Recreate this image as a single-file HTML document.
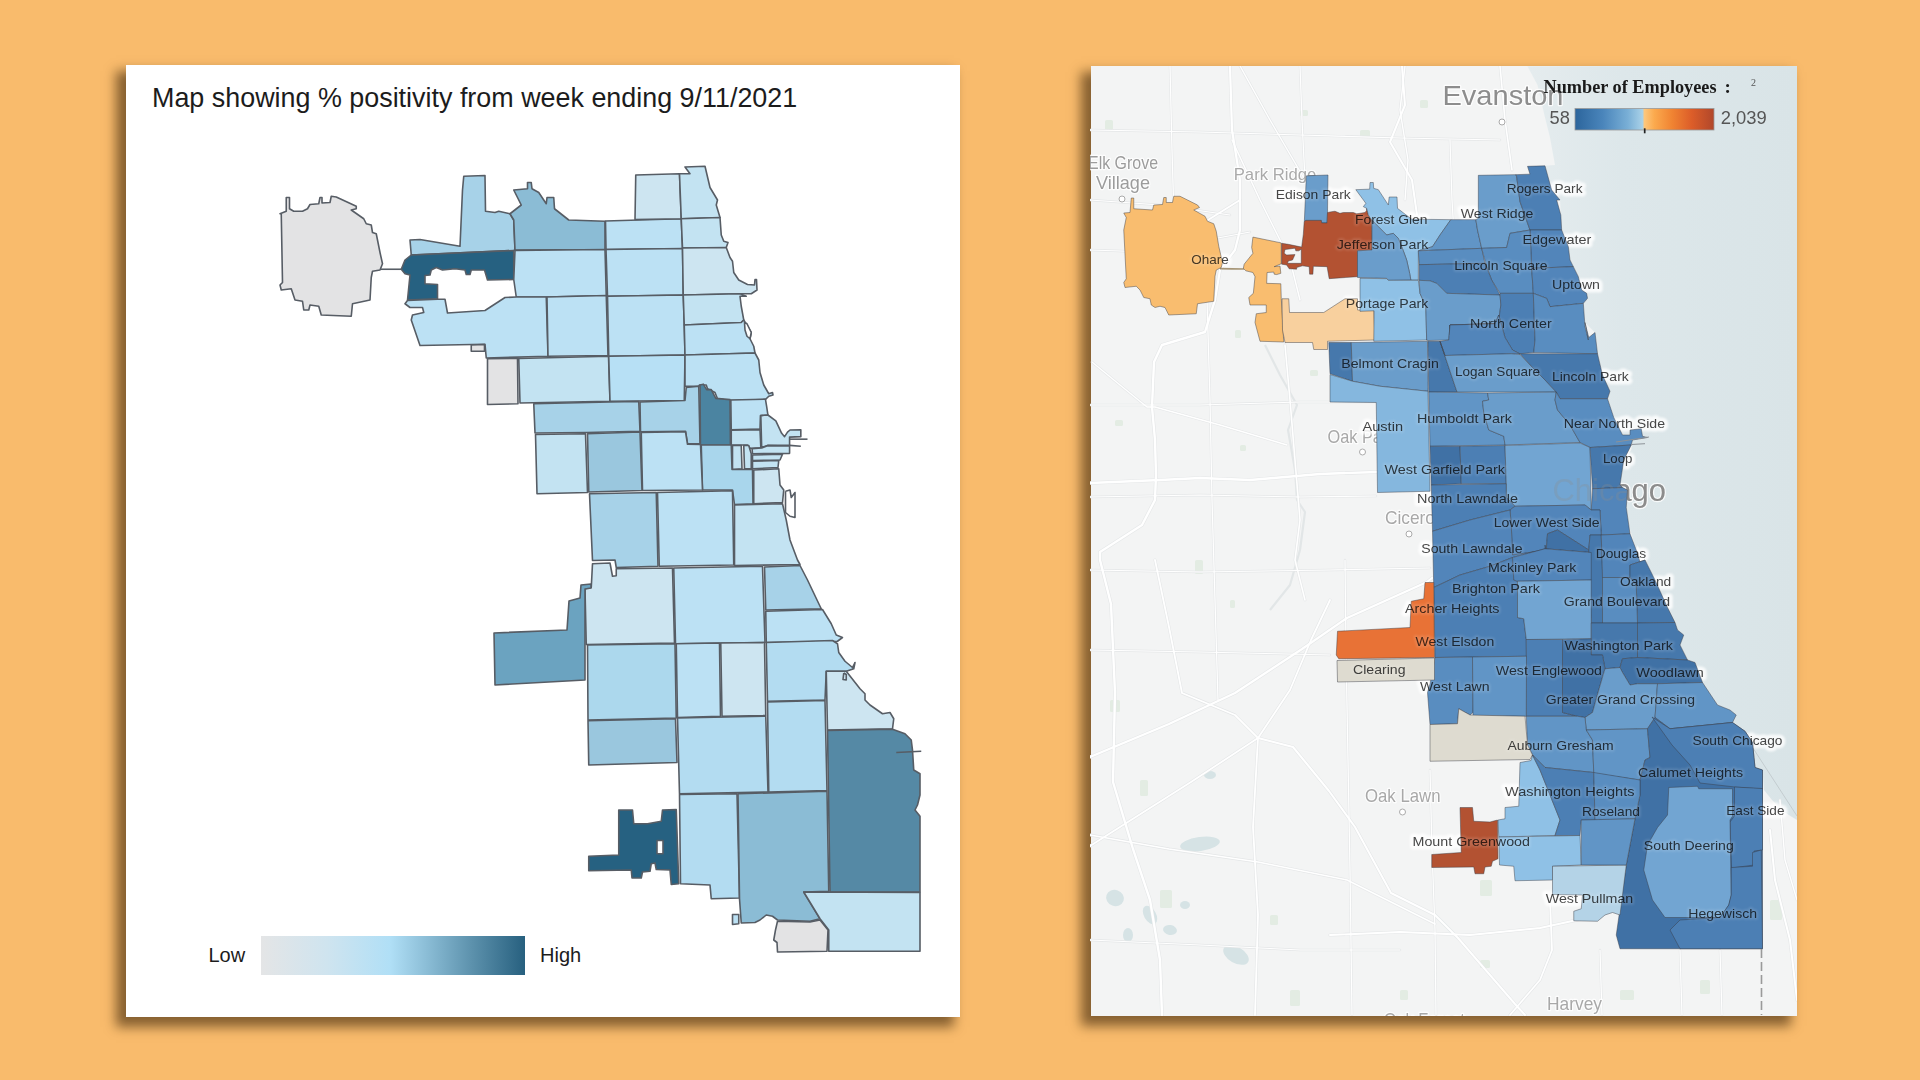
<!DOCTYPE html>
<html lang="en">
<head>
<meta charset="utf-8">
<title>Chicago maps</title>
<style>
html,body{margin:0;padding:0;}
body{width:1920px;height:1080px;overflow:hidden;background:#f9bb6c;font-family:"Liberation Sans",sans-serif;position:relative;}
.card{position:absolute;background:#fff;}
#c1{left:125.5px;top:64.5px;width:834.5px;height:952px;box-shadow:-8px 8px 11px 2px rgba(75,48,18,.66);}
#c2{left:1090.5px;top:66px;width:706.5px;height:949.5px;background:#f3f4f4;box-shadow:-8px 8px 11px 2px rgba(75,48,18,.66);overflow:hidden;}
#title{position:absolute;left:152px;top:83px;font-size:26.9px;color:#1c1c1c;white-space:nowrap;letter-spacing:0;}
.lg{position:absolute;font-size:20px;color:#1c1c1c;}
#grad{position:absolute;left:261px;top:936px;width:264px;height:39px;background:linear-gradient(90deg,#e4e5e6 0%,#cfe4ef 25%,#b0dff6 49%,#8dbfd8 62%,#5c91ac 80%,#27607f 100%);}
svg{position:absolute;left:0;top:0;}
#lm polygon,#lm path,#lm polyline{stroke:#575d65;stroke-width:1.6;stroke-linejoin:round;}
#rm text{font-family:"Liberation Sans",sans-serif;}
#rm text.sb{font-family:"Liberation Serif",serif;font-weight:bold;font-size:19px;}
#rm text.ss{font-family:"Liberation Serif",serif;font-size:10px;}
#rm .cp polygon{stroke:rgba(55,58,66,.5);stroke-width:.9;stroke-linejoin:round;}
#rm .cl{font-size:13.5px;fill:#fff;stroke:#fff;stroke-width:3.5px;stroke-linejoin:round;opacity:.12;filter:url(#hb);}
#rm .cl0{font-size:13.5px;fill:#fff;stroke:#fff;stroke-width:7px;stroke-linejoin:round;opacity:.8;filter:url(#hb);}
#rm .cl2{font-size:13.5px;fill:#474747;mix-blend-mode:multiply;}
#rm .bl{stroke:rgba(255,255,255,.8);stroke-width:2.5px;paint-order:stroke fill;stroke-linejoin:round;}
</style>
</head>
<body>
<div class="card" id="c1"></div>
<div class="card" id="c2"></div>
<div id="title">Map showing % positivity from week ending 9/11/2021</div>
<svg id="lm" width="1920" height="1080" viewBox="0 0 1920 1080">
<polygon points="280,213.75 286.25,211.25 286.25,197.5 289.5,197.5 289.5,208.75 293.75,211.25 302.5,211.25 307.5,208.75 310,204.5 318.75,203.75 320,197.5 322,197.5 322,203 330,202.5 331.25,196.25 336.25,197 356.25,206.25 356.25,208.75 351.25,210 363.75,218.75 366.25,223.75 371.25,225 372.5,232.5 376.25,233.75 380,252.5 382.5,263.75 380,270 372.5,271.25 371.25,277.5 370,300 352.5,303.75 351.25,316.25 321.25,315 318.75,306.25 310,305 308.75,310 303.75,310 302.5,301.25 295,300 291.25,288.75 281.25,290 280,285 282.5,282.5 281.25,213.75" fill="#e3e3e4"/>
<polygon points="411.25,255 410,240 420,239.5 460,246.25 462.5,190 463.75,176.25 485,175.5 485.5,211.25 495,212.5 498.75,211.25 510,213.75 513.75,220 515,250 513.75,250.5" fill="#a7d2e8"/>
<polygon points="513.75,190 527.5,188.75 527.5,182.5 531.25,182.5 532,188.75 538.75,192.5 546.25,203.75 547,197.5 553.75,197.5 554.5,208.75 568.75,220 605,221.25 605,249.5 515,250 513.75,220 510,213.75 521.25,205" fill="#8bbcd5"/>
<polygon points="401.25,269.25 405,260 411.25,255 513.75,250.5 513.75,279.5 487.5,280 484.5,270 471.25,270 470,274.5 466.25,274.5 465,270 455,268.75 442.5,270 436.25,267.5 431.25,270 430,275 425,275.5 425,283.75 437.5,284.5 437.5,298.75 407.5,300 410,275 405,273.75" fill="#266181"/>
<polygon points="515,250.5 605,249.5 606.25,295.5 546.25,297 516.25,297 513.75,279.5" fill="#bce1f4"/>
<polygon points="407.5,300.5 437.5,299.25 445,299.25 447.5,313 485,310.5 505,297.5 516.25,297 546.25,297 548,356.25 486.25,358 485,344.25 420,345.5 411.25,320 412.5,315 423.75,312.5 422.5,307.5 410,307.5 405,303.75" fill="#bce1f4"/>
<polygon points="471.25,345 484.5,344.5 484.5,351.25 471.25,351.25" fill="#e3e3e4"/>
<polygon points="547,297 606.25,295.5 608,355.5 548,356.25" fill="#bce1f4"/>
<polygon points="487.5,358.75 517.5,358.25 518,403.75 487.5,404.5" fill="#e3e3e4"/>
<polygon points="518.75,358.5 608.5,356.25 610,401.25 520,403" fill="#c3e3f2"/>
<polygon points="605.5,221 681.25,218.75 682.5,248.5 606,249.5" fill="#bce1f4"/>
<polygon points="606,249.5 682.5,248.5 683.25,295 607.5,296.25" fill="#bce1f4"/>
<polygon points="607.5,296.25 683.25,295 684.25,325 685,355 608.75,356.25" fill="#bce1f4"/>
<polygon points="608.75,356.25 685,355 684.25,400.5 610,401.25" fill="#b7e0f5"/>
<polygon points="635.75,175 679.5,173.75 681.25,218.75 635,219.5" fill="#cde5f1"/>
<polygon points="679.5,173.75 690,173.75 685,167 705,166.25 710,187.5 717.5,200 716.25,205 720,217.5 681.25,218.75" fill="#c3e3f2"/>
<polygon points="681.25,218.75 720,217.5 721.25,235 723.75,241.25 728,242.5 726.25,247.5 682.5,248" fill="#c3e3f2"/>
<polygon points="682.5,248 726.25,247.5 730,257.5 732.5,261.25 733.75,272.5 738.75,280 747.5,284.5 754.5,285 755,279.5 756.5,279.5 757,290 751.25,293.75 740,293.75 683.25,295" fill="#cde5f1"/>
<polygon points="683.25,295 740,293.75 746.25,296.25 740,296.25 741.25,306.25 743.75,320 741.25,322.5 684.25,325" fill="#c3e3f2"/>
<polygon points="684.25,325 741.25,322.5 743.75,320 751.25,332.5 750,338.75 753.75,346.25 755,353 685,355" fill="#bce1f4"/>
<polygon points="685,355 755,353 758.75,360 760,372.5 763.75,385 768.75,393.75 772.5,392.5 773,395 768.75,396.25 765.5,399.5 730,400.5 717.5,398.75 715,392.5 707.5,388.75 706.25,385 699.5,385 698.75,386.25 685,386.25" fill="#bce1f4"/>
<polygon points="744.5,322.5 747,323.75 751.25,332.5 750,338.75 747,336.25 745,330" fill="#ffffff"/>
<polygon points="533.75,403.75 610,402 638.75,401.5 640,431.25 586.25,432.5 535,433" fill="#a7d2e8"/>
<polygon points="640,402 685,400.5 686.25,387.5 698.75,386.25 700,443.75 687.5,443.75 685.5,431.25 640.5,431.75" fill="#a7d2e8"/>
<polygon points="700,385 703.33,384.17 706.67,389.58 711.25,389.58 715.83,398.33 730,399.58 730.42,445 700.42,445.42" fill="#4b84a1"/>
<polygon points="730.83,400 765.42,399.17 766.67,406.67 767.92,415 760.42,415.67 760,429.17 731.25,429.83" fill="#bce1f4"/>
<polygon points="731.25,430.17 760,429.58 760.83,447.92 750,448.33 747.5,445 731.25,445" fill="#c3e3f2"/>
<polygon points="760.83,415.67 767.92,415 775.83,420.83 781.67,433.33 784.58,436.67 787.5,432.08 790,430 800.83,429.83 800.83,436.67 789.58,437.08 789.58,445.42 767.5,445.42 761.67,447.5" fill="#c3e3f2"/>
<polygon points="752.08,448.75 761.67,447.92 767.5,445.67 789.58,446 789.58,453.33 752.5,453.75" fill="#c3e3f2"/>
<polygon points="732.5,445.5 741.25,445.5 742,468.75 732.5,469.5" fill="#c3e3f2"/>
<polygon points="743.75,445.5 748.75,445.5 751.25,453.75 751.25,468.75 744.5,468.75" fill="#c3e3f2"/>
<polygon points="752.5,455 782.5,454.25 780,460 752.5,460.5" fill="#c3e3f2"/>
<polygon points="752.5,461.25 778.75,460.5 778,467.5 752.5,468.75" fill="#c3e3f2"/>
<polygon points="753.75,470 778.75,468.75 780,485 783.75,490 782.5,502.5 753.75,503.75" fill="#cde5f1"/>
<polygon points="701.25,445 731.25,445 732,469.5 752.5,469.5 753,503.75 734.5,504.5 732.5,490 702.5,490" fill="#a9d6ec"/>
<polygon points="641.25,432.5 685.5,431.75 687.5,444.25 700.5,444.5 702.5,490 642.5,490.5" fill="#bce1f4"/>
<polygon points="587.5,433.75 640,432 642,490.5 588.75,492" fill="#9ac7de"/>
<polygon points="535.5,434.5 585.5,433.75 587.5,492.5 537,493.75" fill="#c3e3f2"/>
<polygon points="589.5,493.75 656.25,492.5 658,566.25 616.25,567.5 615,560 592.5,560.5" fill="#a7d2e8"/>
<polygon points="657.5,492.5 732.5,490.75 733.75,565 659.25,566.25" fill="#bce1f4"/>
<polygon points="734.5,505 782.5,503.75 786.25,520 790,540 797.5,560 800,564.5 734.5,565.5" fill="#c3e3f2"/>
<polygon points="592.5,563.75 610,563 612.5,576.25 616.25,575.75 616.25,568.75 672.5,568 674.5,643 586.25,644.5 585,588.75 591.25,587.5" fill="#cde5f1"/>
<polygon points="673.75,568 762.5,566.25 765,642.5 675.5,643.75" fill="#bce1f4"/>
<polygon points="764.5,567 800,565.5 807.5,580 820,606.25 821.25,608.75 765.75,610" fill="#a7d2e8"/>
<polygon points="765.75,611.25 822.5,609.5 831.25,623.75 836.25,635 842.5,637.5 837.5,641.25 766.25,642.5" fill="#bce1f4"/>
<polygon points="494,633 567,630 569,601 580,598 581,585 591,584 591,588 585,589 585,680 495,685" fill="#6ba3c0"/>
<polygon points="587.5,645 675,643.75 676.25,718 588,720" fill="#acd8ed"/>
<polygon points="676.25,643.75 719.5,643 720.5,716.25 677.5,717.5" fill="#bce1f4"/>
<polygon points="720.75,643 764.5,642.5 765.75,715.5 722,716.25" fill="#cde5f1"/>
<polygon points="766.25,642.5 832.5,640.5 837.5,643.75 838.75,652.5 845,661.25 852.5,667.5 855,662.5 853.75,668.75 846.25,671.25 826.25,671.25 825,700 767.5,701.25" fill="#b3dcf1"/>
<polygon points="767.5,702 825,700.5 827,790.5 768.75,792" fill="#b3dcf1"/>
<polygon points="826.25,671.25 846.25,671.25 860,688.75 865,693.75 865,700 870,705 882.5,713.75 890,712.5 893.75,718.75 892.5,728.75 827.5,730" fill="#cde5f1"/>
<polygon points="827.5,730.5 892.5,729.25 905,733.75 911.25,740 912.5,750 913.75,770 920,773.75 920,795 917.5,805 915,810 920,816.25 920,892 830,892" fill="#5589a5"/>
<polygon points="588,720.75 675.5,718.75 677,762.5 588.75,765" fill="#9ac7de"/>
<polygon points="677.5,718 765.75,716.25 768,792 679.5,793.75" fill="#b3dcf1"/>
<polygon points="679.5,794.5 737,793.75 739.5,898 711.25,898.75 710,885 680.5,883.75" fill="#b3dcf1"/>
<polygon points="738,793.75 827,791.25 828.75,891.25 803.75,892 820,918.75 810,921.25 777.5,920 772.5,916.25 766.25,915 760,920 755,922.5 741.25,923 739.5,898.75" fill="#8bbcd5"/>
<polygon points="732.5,914.5 738.75,914.5 738.75,923.75 732.5,924.5" fill="#bce1f4"/>
<polygon points="803.75,892 920,892.5 920,951.25 828.75,951.25 828.75,930 820,918.75" fill="#c3e3f2"/>
<polygon points="777.5,921.25 810,922 820,920 828,930 827,951.25 777.5,952 777,942.5 773.75,940 775.5,930" fill="#e3e3e4"/>
<path d="M618.75 810 L632.5 810 L633.75 823.75 L647.5 823.75 L661.25 821.25 L662.5 810 L676.25 809.5 L678.75 883.75 L671.25 884.5 L670 870 L656.25 869.5 L655 863 L651.25 863.75 L650 871.25 L642.5 872 L641.25 878 L632 878 L631.25 870 L588.75 870.75 L588.75 856.25 L618.75 855 Z M657 840.5 L663 840.5 L663 853.75 L657 853.75 Z" fill="#266181" fill-rule="evenodd"/>
<polyline points="843.75,673 846.25,674.5 846.25,680 843,679.5 843.75,673" fill="none"/>
<polyline points="380,269.25 401.25,269.25" fill="none"/>
<polyline points="896.25,752.5 921.25,751.25" fill="none"/>
<polyline points="789.58,439.17 807.5,439.17" fill="none"/>
<polyline points="789.58,445.42 800.83,446.25" fill="none"/>
<polyline points="785.5,491.25 790,490 791.25,497.5 795,492.5 795,517.5 790,516.25 785.5,512.5 785.5,491.25" fill="none"/>
</svg>
<div id="grad"></div>
<div class="lg" style="left:208.5px;top:944px;">Low</div>
<div class="lg" style="left:540px;top:944px;">High</div>
<svg id="rm" width="1920" height="1080" viewBox="0 0 1920 1080">
<defs><clipPath id="rc"><rect x="1090.5" y="66" width="706.5" height="949.5"/></clipPath><linearGradient id="lk" x1="0" x2="1" y1="0" y2="0"><stop offset="0" stop-color="#e5ecee"/><stop offset="0.35" stop-color="#dde7ea"/><stop offset="1" stop-color="#d9e4e7"/></linearGradient><linearGradient id="lg2" x1="0" x2="1"><stop offset="0" stop-color="#2c659c"/><stop offset="0.2" stop-color="#4a85bb"/><stop offset="0.38" stop-color="#79afd6"/><stop offset="0.485" stop-color="#a9d1e8"/><stop offset="0.5" stop-color="#fdc77c"/><stop offset="0.57" stop-color="#fbaa4e"/><stop offset="0.7" stop-color="#f08332"/><stop offset="0.84" stop-color="#dc5d29"/><stop offset="1" stop-color="#b0472b"/></linearGradient><filter id="hb" x="-10%" y="-40%" width="120%" height="180%"><feGaussianBlur stdDeviation="1.3"/></filter></defs>
<g clip-path="url(#rc)">
<polygon points="1527.5,66.25 1537.5,85 1545,117.5 1550,137.5 1555,165 1545,165.83 1551.67,190 1560,200 1560.83,215 1561.67,230 1568.33,246.67 1570,260 1573.33,266.67 1578.33,276.67 1581.67,290 1587.5,295.83 1583.33,303.33 1585,326.67 1585,322.5 1595,332.5 1597.5,353.75 1602.5,375 1610,391.25 1607.5,400 1613.75,417.5 1622.5,435 1630,435 1630,430 1641.25,428.75 1642.5,436.25 1647.5,437.5 1632.5,440 1631.25,450 1623.75,460 1620,485 1627.5,490 1626.25,507.5 1628.75,525 1636.25,550 1637.5,545 1645,560 1655,580 1667.5,607.5 1677.5,630 1683.75,635 1680,645 1687.5,660 1695,662.5 1702.5,682.5 1717.5,705 1730,710 1736.25,715 1732.5,722.5 1745,731.25 1752.5,742.5 1755,767.5 1762.5,770 1764,790 1772,800 1784,812 1797,820 1797,66" fill="url(#lk)"/>
<line x1="1751" y1="745" x2="1797" y2="816" stroke="#c3cccf" stroke-width="1"/>
<polyline points="1265,345 1280,375 1297,405 1288,430 1295,470 1297,500 1305,512 1300,550 1290,585 1270,610" fill="none" stroke="#e2e6e7" stroke-width="2.2" stroke-linejoin="round"/>
<ellipse cx="1200" cy="844" rx="20" ry="7" transform="rotate(-8 1200 844)" fill="#d6e3e5"/>
<ellipse cx="1115" cy="898" rx="9" ry="8" transform="rotate(20 1115 898)" fill="#d6e3e5"/>
<ellipse cx="1236" cy="955" rx="14" ry="8" transform="rotate(30 1236 955)" fill="#d6e3e5"/>
<ellipse cx="1150" cy="915" rx="6" ry="10" transform="rotate(-30 1150 915)" fill="#d6e3e5"/>
<ellipse cx="1170" cy="930" rx="7" ry="5" transform="rotate(10 1170 930)" fill="#d6e3e5"/>
<ellipse cx="1185" cy="905" rx="5" ry="4" transform="rotate(0 1185 905)" fill="#d6e3e5"/>
<ellipse cx="1128" cy="935" rx="5" ry="7" transform="rotate(0 1128 935)" fill="#d6e3e5"/>
<ellipse cx="1210" cy="775" rx="6" ry="4" transform="rotate(0 1210 775)" fill="#d6e3e5"/>
<rect x="1105" y="120" width="8" height="10" fill="#e3ece3" rx="1.5"/>
<rect x="1150" y="160" width="6" height="8" fill="#e3ece3" rx="1.5"/>
<rect x="1195" y="560" width="8" height="14" fill="#e3ece3" rx="1.5"/>
<rect x="1230" y="600" width="5" height="8" fill="#e3ece3" rx="1.5"/>
<rect x="1110" y="700" width="10" height="12" fill="#e3ece3" rx="1.5"/>
<rect x="1140" y="780" width="8" height="16" fill="#e3ece3" rx="1.5"/>
<rect x="1160" y="890" width="12" height="18" fill="#e3ece3" rx="1.5"/>
<rect x="1290" y="990" width="10" height="16" fill="#e3ece3" rx="1.5"/>
<rect x="1400" y="990" width="8" height="10" fill="#e3ece3" rx="1.5"/>
<rect x="1270" y="915" width="8" height="10" fill="#e3ece3" rx="1.5"/>
<rect x="1480" y="960" width="10" height="8" fill="#e3ece3" rx="1.5"/>
<rect x="1620" y="990" width="14" height="10" fill="#e3ece3" rx="1.5"/>
<rect x="1700" y="980" width="10" height="14" fill="#e3ece3" rx="1.5"/>
<rect x="1770" y="900" width="12" height="20" fill="#e3ece3" rx="1.5"/>
<rect x="1360" y="130" width="10" height="8" fill="#e3ece3" rx="1.5"/>
<rect x="1420" y="100" width="8" height="8" fill="#e3ece3" rx="1.5"/>
<rect x="1300" y="110" width="8" height="6" fill="#e3ece3" rx="1.5"/>
<rect x="1115" y="420" width="8" height="6" fill="#e3ece3" rx="1.5"/>
<rect x="1235" y="330" width="6" height="8" fill="#e3ece3" rx="1.5"/>
<rect x="1310" y="370" width="8" height="6" fill="#e3ece3" rx="1.5"/>
<rect x="1480" y="880" width="12" height="16" fill="#e3ece3" rx="1.5"/>
<rect x="1540" y="760" width="6" height="10" fill="#e3ece3" rx="1.5"/>
<rect x="1240" y="445" width="6" height="6" fill="#e3ece3" rx="1.5"/>
<polyline points="1215,300 1205,332 1162,345 1154,362 1152,407 1155,440 1156,475 1155,500 1142,525 1100,552 1100,560 1111,604 1115,693 1113,782 1133,849 1150,900 1160,960 1162,1015" fill="none" stroke="#e4e6e7" stroke-width="3.5999999999999996" stroke-linecap="round" stroke-linejoin="round"/>
<polyline points="1092,362 1120,385 1147,407 1155,407 1220,425 1287,445" fill="none" stroke="#e4e6e7" stroke-width="2.5999999999999996" stroke-linecap="round" stroke-linejoin="round"/>
<polyline points="1090,483 1160,480 1200,478 1250,480 1320,474 1376,472" fill="none" stroke="#e4e6e7" stroke-width="3.5999999999999996" stroke-linecap="round" stroke-linejoin="round"/>
<polyline points="1090,497 1200,495 1300,497 1376,496" fill="none" stroke="#e4e6e7" stroke-width="2.4" stroke-linecap="round" stroke-linejoin="round"/>
<polyline points="1215,300 1220,270 1235,250 1240,230 1240,180 1232,130 1230,66" fill="none" stroke="#e4e6e7" stroke-width="3.4000000000000004" stroke-linecap="round" stroke-linejoin="round"/>
<polyline points="1240,66 1270,120 1305,180 1330,215" fill="none" stroke="#e4e6e7" stroke-width="2.5999999999999996" stroke-linecap="round" stroke-linejoin="round"/>
<polyline points="1232,140 1260,200 1290,260 1300,300" fill="none" stroke="#e4e6e7" stroke-width="2.7" stroke-linecap="round" stroke-linejoin="round"/>
<polyline points="1240,200 1200,225 1180,245 1140,262" fill="none" stroke="#e4e6e7" stroke-width="3.2" stroke-linecap="round" stroke-linejoin="round"/>
<polyline points="1402,66 1405,105 1390,142 1412,180 1417,215" fill="none" stroke="#e4e6e7" stroke-width="3.2" stroke-linecap="round" stroke-linejoin="round"/>
<polyline points="1405,66 1400,110 1408,160 1405,200" fill="none" stroke="#e4e6e7" stroke-width="2.5999999999999996" stroke-linecap="round" stroke-linejoin="round"/>
<polyline points="1090,405 1200,405 1300,402 1376,402" fill="none" stroke="#e4e6e7" stroke-width="2.4" stroke-linecap="round" stroke-linejoin="round"/>
<polyline points="1207,300 1210,400 1212,500 1215,600 1218,700" fill="none" stroke="#e4e6e7" stroke-width="2.4" stroke-linecap="round" stroke-linejoin="round"/>
<polyline points="1285,345 1290,400 1295,460 1300,520 1295,560 1305,600" fill="none" stroke="#e4e6e7" stroke-width="2.8" stroke-linecap="round" stroke-linejoin="round"/>
<polyline points="1090,570 1200,572 1330,570 1430,568" fill="none" stroke="#e4e6e7" stroke-width="2.4" stroke-linecap="round" stroke-linejoin="round"/>
<polyline points="1090,250 1150,252 1180,245 1250,232" fill="none" stroke="#e4e6e7" stroke-width="2.4" stroke-linecap="round" stroke-linejoin="round"/>
<polyline points="1300,66 1302,120 1305,180" fill="none" stroke="#e4e6e7" stroke-width="2.4" stroke-linecap="round" stroke-linejoin="round"/>
<polyline points="1450,140 1452,200 1455,250" fill="none" stroke="#e4e6e7" stroke-width="2.4" stroke-linecap="round" stroke-linejoin="round"/>
<polyline points="1500,66 1505,120 1512,170" fill="none" stroke="#e4e6e7" stroke-width="2.8" stroke-linecap="round" stroke-linejoin="round"/>
<polyline points="1170,66 1172,150 1175,250 1180,300" fill="none" stroke="#e4e6e7" stroke-width="2.4" stroke-linecap="round" stroke-linejoin="round"/>
<polyline points="1090,130 1200,132 1300,135 1400,138 1500,140" fill="none" stroke="#e4e6e7" stroke-width="2.4" stroke-linecap="round" stroke-linejoin="round"/>
<polyline points="1090,200 1160,205 1230,215" fill="none" stroke="#e4e6e7" stroke-width="2.4" stroke-linecap="round" stroke-linejoin="round"/>
<polyline points="1090,757 1169,724 1235,693 1302,649 1347,618 1427,582 1432,578" fill="none" stroke="#e4e6e7" stroke-width="3.4000000000000004" stroke-linecap="round" stroke-linejoin="round"/>
<polyline points="1090,846 1191,782 1258,738 1290,690 1311,640 1330,600" fill="none" stroke="#e4e6e7" stroke-width="3.0" stroke-linecap="round" stroke-linejoin="round"/>
<polyline points="1155,560 1169,627 1182,693 1235,715 1258,738 1253,827 1258,915 1255,1015" fill="none" stroke="#e4e6e7" stroke-width="3.0" stroke-linecap="round" stroke-linejoin="round"/>
<polyline points="1258,738 1293,747 1329,791 1355,827 1391,893 1435,915 1458,938 1515,1004 1525,1015" fill="none" stroke="#e4e6e7" stroke-width="3.2" stroke-linecap="round" stroke-linejoin="round"/>
<polyline points="1090,835 1169,849 1258,862 1347,880 1435,924" fill="none" stroke="#e4e6e7" stroke-width="2.8" stroke-linecap="round" stroke-linejoin="round"/>
<polyline points="1330,935 1400,932 1470,935 1540,928 1600,915 1620,905" fill="none" stroke="#e4e6e7" stroke-width="3.2" stroke-linecap="round" stroke-linejoin="round"/>
<polyline points="1550,900 1552,950 1540,980 1510,1015" fill="none" stroke="#e4e6e7" stroke-width="3.0" stroke-linecap="round" stroke-linejoin="round"/>
<polyline points="1430,770 1432,850 1435,930 1436,1015" fill="none" stroke="#e4e6e7" stroke-width="2.4" stroke-linecap="round" stroke-linejoin="round"/>
<polyline points="1090,940 1200,945 1300,950 1400,950" fill="none" stroke="#e4e6e7" stroke-width="2.4" stroke-linecap="round" stroke-linejoin="round"/>
<polyline points="1345,560 1346,650 1348,760 1350,870 1352,1015" fill="none" stroke="#e4e6e7" stroke-width="2.4" stroke-linecap="round" stroke-linejoin="round"/>
<polyline points="1600,950 1602,1015" fill="none" stroke="#e4e6e7" stroke-width="2.4" stroke-linecap="round" stroke-linejoin="round"/>
<polyline points="1680,950 1682,1015" fill="none" stroke="#e4e6e7" stroke-width="2.4" stroke-linecap="round" stroke-linejoin="round"/>
<polyline points="1720,950 1722,1015" fill="none" stroke="#e4e6e7" stroke-width="2.4" stroke-linecap="round" stroke-linejoin="round"/>
<polyline points="1090,650 1200,652 1330,655" fill="none" stroke="#e4e6e7" stroke-width="2.4" stroke-linecap="round" stroke-linejoin="round"/>
<polyline points="1770,830 1775,880 1790,940 1797,1000" fill="none" stroke="#e4e6e7" stroke-width="3.2" stroke-linecap="round" stroke-linejoin="round"/>
<polyline points="1780,800 1785,860 1797,900" fill="none" stroke="#e4e6e7" stroke-width="2.5999999999999996" stroke-linecap="round" stroke-linejoin="round"/>
<polyline points="1215,300 1205,332 1162,345 1154,362 1152,407 1155,440 1156,475 1155,500 1142,525 1100,552 1100,560 1111,604 1115,693 1113,782 1133,849 1150,900 1160,960 1162,1015" fill="none" stroke="#ffffff" stroke-width="2.4" stroke-linecap="round" stroke-linejoin="round"/>
<polyline points="1092,362 1120,385 1147,407 1155,407 1220,425 1287,445" fill="none" stroke="#ffffff" stroke-width="1.4" stroke-linecap="round" stroke-linejoin="round"/>
<polyline points="1090,483 1160,480 1200,478 1250,480 1320,474 1376,472" fill="none" stroke="#ffffff" stroke-width="2.4" stroke-linecap="round" stroke-linejoin="round"/>
<polyline points="1090,497 1200,495 1300,497 1376,496" fill="none" stroke="#ffffff" stroke-width="1.2" stroke-linecap="round" stroke-linejoin="round"/>
<polyline points="1215,300 1220,270 1235,250 1240,230 1240,180 1232,130 1230,66" fill="none" stroke="#ffffff" stroke-width="2.2" stroke-linecap="round" stroke-linejoin="round"/>
<polyline points="1240,66 1270,120 1305,180 1330,215" fill="none" stroke="#ffffff" stroke-width="1.4" stroke-linecap="round" stroke-linejoin="round"/>
<polyline points="1232,140 1260,200 1290,260 1300,300" fill="none" stroke="#ffffff" stroke-width="1.5" stroke-linecap="round" stroke-linejoin="round"/>
<polyline points="1240,200 1200,225 1180,245 1140,262" fill="none" stroke="#ffffff" stroke-width="2" stroke-linecap="round" stroke-linejoin="round"/>
<polyline points="1402,66 1405,105 1390,142 1412,180 1417,215" fill="none" stroke="#ffffff" stroke-width="2" stroke-linecap="round" stroke-linejoin="round"/>
<polyline points="1405,66 1400,110 1408,160 1405,200" fill="none" stroke="#ffffff" stroke-width="1.4" stroke-linecap="round" stroke-linejoin="round"/>
<polyline points="1090,405 1200,405 1300,402 1376,402" fill="none" stroke="#ffffff" stroke-width="1.2" stroke-linecap="round" stroke-linejoin="round"/>
<polyline points="1207,300 1210,400 1212,500 1215,600 1218,700" fill="none" stroke="#ffffff" stroke-width="1.2" stroke-linecap="round" stroke-linejoin="round"/>
<polyline points="1285,345 1290,400 1295,460 1300,520 1295,560 1305,600" fill="none" stroke="#ffffff" stroke-width="1.6" stroke-linecap="round" stroke-linejoin="round"/>
<polyline points="1090,570 1200,572 1330,570 1430,568" fill="none" stroke="#ffffff" stroke-width="1.2" stroke-linecap="round" stroke-linejoin="round"/>
<polyline points="1090,250 1150,252 1180,245 1250,232" fill="none" stroke="#ffffff" stroke-width="1.2" stroke-linecap="round" stroke-linejoin="round"/>
<polyline points="1300,66 1302,120 1305,180" fill="none" stroke="#ffffff" stroke-width="1.2" stroke-linecap="round" stroke-linejoin="round"/>
<polyline points="1450,140 1452,200 1455,250" fill="none" stroke="#ffffff" stroke-width="1.2" stroke-linecap="round" stroke-linejoin="round"/>
<polyline points="1500,66 1505,120 1512,170" fill="none" stroke="#ffffff" stroke-width="1.6" stroke-linecap="round" stroke-linejoin="round"/>
<polyline points="1170,66 1172,150 1175,250 1180,300" fill="none" stroke="#ffffff" stroke-width="1.2" stroke-linecap="round" stroke-linejoin="round"/>
<polyline points="1090,130 1200,132 1300,135 1400,138 1500,140" fill="none" stroke="#ffffff" stroke-width="1.2" stroke-linecap="round" stroke-linejoin="round"/>
<polyline points="1090,200 1160,205 1230,215" fill="none" stroke="#ffffff" stroke-width="1.2" stroke-linecap="round" stroke-linejoin="round"/>
<polyline points="1090,757 1169,724 1235,693 1302,649 1347,618 1427,582 1432,578" fill="none" stroke="#ffffff" stroke-width="2.2" stroke-linecap="round" stroke-linejoin="round"/>
<polyline points="1090,846 1191,782 1258,738 1290,690 1311,640 1330,600" fill="none" stroke="#ffffff" stroke-width="1.8" stroke-linecap="round" stroke-linejoin="round"/>
<polyline points="1155,560 1169,627 1182,693 1235,715 1258,738 1253,827 1258,915 1255,1015" fill="none" stroke="#ffffff" stroke-width="1.8" stroke-linecap="round" stroke-linejoin="round"/>
<polyline points="1258,738 1293,747 1329,791 1355,827 1391,893 1435,915 1458,938 1515,1004 1525,1015" fill="none" stroke="#ffffff" stroke-width="2" stroke-linecap="round" stroke-linejoin="round"/>
<polyline points="1090,835 1169,849 1258,862 1347,880 1435,924" fill="none" stroke="#ffffff" stroke-width="1.6" stroke-linecap="round" stroke-linejoin="round"/>
<polyline points="1330,935 1400,932 1470,935 1540,928 1600,915 1620,905" fill="none" stroke="#ffffff" stroke-width="2" stroke-linecap="round" stroke-linejoin="round"/>
<polyline points="1550,900 1552,950 1540,980 1510,1015" fill="none" stroke="#ffffff" stroke-width="1.8" stroke-linecap="round" stroke-linejoin="round"/>
<polyline points="1430,770 1432,850 1435,930 1436,1015" fill="none" stroke="#ffffff" stroke-width="1.2" stroke-linecap="round" stroke-linejoin="round"/>
<polyline points="1090,940 1200,945 1300,950 1400,950" fill="none" stroke="#ffffff" stroke-width="1.2" stroke-linecap="round" stroke-linejoin="round"/>
<polyline points="1345,560 1346,650 1348,760 1350,870 1352,1015" fill="none" stroke="#ffffff" stroke-width="1.2" stroke-linecap="round" stroke-linejoin="round"/>
<polyline points="1600,950 1602,1015" fill="none" stroke="#ffffff" stroke-width="1.2" stroke-linecap="round" stroke-linejoin="round"/>
<polyline points="1680,950 1682,1015" fill="none" stroke="#ffffff" stroke-width="1.2" stroke-linecap="round" stroke-linejoin="round"/>
<polyline points="1720,950 1722,1015" fill="none" stroke="#ffffff" stroke-width="1.2" stroke-linecap="round" stroke-linejoin="round"/>
<polyline points="1090,650 1200,652 1330,655" fill="none" stroke="#ffffff" stroke-width="1.2" stroke-linecap="round" stroke-linejoin="round"/>
<polyline points="1770,830 1775,880 1790,940 1797,1000" fill="none" stroke="#ffffff" stroke-width="2" stroke-linecap="round" stroke-linejoin="round"/>
<polyline points="1780,800 1785,860 1797,900" fill="none" stroke="#ffffff" stroke-width="1.4" stroke-linecap="round" stroke-linejoin="round"/>
<text x="1442.5" y="105" font-size="28.5" fill="#8d8d8d" textLength="121" lengthAdjust="spacingAndGlyphs" class="bl">Evanston</text>
<text x="1088" y="168.5" font-size="18.5" fill="#9c9c9c" textLength="70" lengthAdjust="spacingAndGlyphs" class="bl">Elk Grove</text>
<text x="1096" y="189" font-size="18.5" fill="#9c9c9c" textLength="54" lengthAdjust="spacingAndGlyphs" class="bl">Village</text>
<text x="1233.75" y="180" font-size="17" fill="#aaaaaa" textLength="82.5" lengthAdjust="spacingAndGlyphs" class="bl">Park Ridge</text>
<text x="1327.5" y="443" font-size="18.5" fill="#a8a8a8" textLength="68" lengthAdjust="spacingAndGlyphs" class="bl">Oak Park</text>
<text x="1385" y="524" font-size="18.5" fill="#a8a8a8" textLength="50" lengthAdjust="spacingAndGlyphs" class="bl">Cicero</text>
<text x="1552.5" y="501" font-size="31" fill="#8d8d8d" textLength="113.5" lengthAdjust="spacingAndGlyphs" class="bl">Chicago</text>
<text x="1365" y="801.5" font-size="18.5" fill="#a8a8a8" textLength="75.5" lengthAdjust="spacingAndGlyphs" class="bl">Oak Lawn</text>
<text x="1547" y="1009.5" font-size="18.5" fill="#a8a8a8" textLength="55" lengthAdjust="spacingAndGlyphs" class="bl">Harvey</text>
<text x="1383.75" y="1026" font-size="18.5" fill="#a8a8a8" textLength="81" lengthAdjust="spacingAndGlyphs" class="bl">Oak Forest</text>
<circle cx="1502" cy="122" r="3" fill="#fff" stroke="#aaa" stroke-width="1"/>
<circle cx="1122" cy="199" r="3" fill="#fff" stroke="#aaa" stroke-width="1"/>
<circle cx="1362.5" cy="452" r="3" fill="#fff" stroke="#aaa" stroke-width="1"/>
<circle cx="1409" cy="534" r="3" fill="#fff" stroke="#aaa" stroke-width="1"/>
<circle cx="1402.5" cy="812" r="3" fill="#fff" stroke="#aaa" stroke-width="1"/>
<circle cx="1400" cy="1040" r="3" fill="#fff" stroke="#aaa" stroke-width="1"/>
<text x="1275.8" y="199" textLength="75" lengthAdjust="spacingAndGlyphs" class="cl0">Edison Park</text>
<text x="1355" y="224.2" textLength="72.5" lengthAdjust="spacingAndGlyphs" class="cl0">Forest Glen</text>
<text x="1336.7" y="249.2" textLength="91.7" lengthAdjust="spacingAndGlyphs" class="cl0">Jefferson Park</text>
<text x="1345.8" y="307.5" textLength="82.5" lengthAdjust="spacingAndGlyphs" class="cl0">Portage Park</text>
<text x="1460.8" y="218.3" textLength="72.5" lengthAdjust="spacingAndGlyphs" class="cl0">West Ridge</text>
<text x="1506.7" y="192.5" textLength="75.8" lengthAdjust="spacingAndGlyphs" class="cl0">Rogers Park</text>
<text x="1522.5" y="243.75" textLength="68.75" lengthAdjust="spacingAndGlyphs" class="cl0">Edgewater</text>
<text x="1454.2" y="270" textLength="93.3" lengthAdjust="spacingAndGlyphs" class="cl0">Lincoln Square</text>
<text x="1552" y="288.75" textLength="48" lengthAdjust="spacingAndGlyphs" class="cl0">Uptown</text>
<text x="1470" y="327.5" textLength="81.7" lengthAdjust="spacingAndGlyphs" class="cl0">North Center</text>
<text x="1191.25" y="263.75" textLength="37.5" lengthAdjust="spacingAndGlyphs" class="cl0">Ohare</text>
<text x="1341.25" y="367.5" textLength="97.5" lengthAdjust="spacingAndGlyphs" class="cl0">Belmont Cragin</text>
<text x="1455" y="376.25" textLength="85" lengthAdjust="spacingAndGlyphs" class="cl0">Logan Square</text>
<text x="1552" y="381.25" textLength="76.75" lengthAdjust="spacingAndGlyphs" class="cl0">Lincoln Park</text>
<text x="1417" y="422.5" textLength="95" lengthAdjust="spacingAndGlyphs" class="cl0">Humboldt Park</text>
<text x="1362.5" y="431.25" textLength="40.5" lengthAdjust="spacingAndGlyphs" class="cl0">Austin</text>
<text x="1563.75" y="428" textLength="101.25" lengthAdjust="spacingAndGlyphs" class="cl0">Near North Side</text>
<text x="1603" y="463" textLength="29.5" lengthAdjust="spacingAndGlyphs" class="cl0">Loop</text>
<text x="1384.5" y="473.75" textLength="120.5" lengthAdjust="spacingAndGlyphs" class="cl0">West Garfield Park</text>
<text x="1417" y="502.5" textLength="101" lengthAdjust="spacingAndGlyphs" class="cl0">North Lawndale</text>
<text x="1493.75" y="527" textLength="105.75" lengthAdjust="spacingAndGlyphs" class="cl0">Lower West Side</text>
<text x="1421.25" y="552.5" textLength="101.25" lengthAdjust="spacingAndGlyphs" class="cl0">South Lawndale</text>
<text x="1595.75" y="557.5" textLength="50.5" lengthAdjust="spacingAndGlyphs" class="cl0">Douglas</text>
<text x="1488" y="572" textLength="88.25" lengthAdjust="spacingAndGlyphs" class="cl0">Mckinley Park</text>
<text x="1452" y="593" textLength="88" lengthAdjust="spacingAndGlyphs" class="cl0">Brighton Park</text>
<text x="1405" y="613" textLength="94.5" lengthAdjust="spacingAndGlyphs" class="cl0">Archer Heights</text>
<text x="1620" y="585.75" textLength="51.25" lengthAdjust="spacingAndGlyphs" class="cl0">Oakland</text>
<text x="1563.75" y="605.5" textLength="106.25" lengthAdjust="spacingAndGlyphs" class="cl0">Grand Boulevard</text>
<text x="1415.5" y="646.25" textLength="78.75" lengthAdjust="spacingAndGlyphs" class="cl0">West Elsdon</text>
<text x="1564.5" y="649.5" textLength="108.5" lengthAdjust="spacingAndGlyphs" class="cl0">Washington Park</text>
<text x="1353" y="673.75" textLength="52.5" lengthAdjust="spacingAndGlyphs" class="cl0">Clearing</text>
<text x="1495.75" y="675" textLength="106.25" lengthAdjust="spacingAndGlyphs" class="cl0">West Englewood</text>
<text x="1636.25" y="676.75" textLength="67.5" lengthAdjust="spacingAndGlyphs" class="cl0">Woodlawn</text>
<text x="1420" y="690.5" textLength="69.5" lengthAdjust="spacingAndGlyphs" class="cl0">West Lawn</text>
<text x="1545.75" y="703.75" textLength="149.25" lengthAdjust="spacingAndGlyphs" class="cl0">Greater Grand Crossing</text>
<text x="1507.5" y="749.5" textLength="106.25" lengthAdjust="spacingAndGlyphs" class="cl0">Auburn Gresham</text>
<text x="1692.5" y="745" textLength="90" lengthAdjust="spacingAndGlyphs" class="cl0">South Chicago</text>
<text x="1638" y="777" textLength="105" lengthAdjust="spacingAndGlyphs" class="cl0">Calumet Heights</text>
<text x="1505" y="796.25" textLength="129.5" lengthAdjust="spacingAndGlyphs" class="cl0">Washington Heights</text>
<text x="1582" y="816.25" textLength="58" lengthAdjust="spacingAndGlyphs" class="cl0">Roseland</text>
<text x="1726.25" y="815" textLength="58.25" lengthAdjust="spacingAndGlyphs" class="cl0">East Side</text>
<text x="1412.5" y="846.25" textLength="117.5" lengthAdjust="spacingAndGlyphs" class="cl0">Mount Greenwood</text>
<text x="1643.75" y="850" textLength="90" lengthAdjust="spacingAndGlyphs" class="cl0">South Deering</text>
<text x="1545.75" y="902.5" textLength="87.5" lengthAdjust="spacingAndGlyphs" class="cl0">West Pullman</text>
<text x="1688.25" y="917.5" textLength="68.75" lengthAdjust="spacingAndGlyphs" class="cl0">Hegewisch</text>
<polyline points="1220,268.6 1232,268.8 1244,269" fill="none" stroke="#a69577" stroke-width="1.7"/>
<g class="cp">
<polygon points="1123.75,213 1130,212.5 1131.25,198 1133.75,198 1133.75,208.75 1152.5,210 1153.75,205 1162.5,204.5 1163.75,197.5 1166.25,197.5 1166.25,202.5 1172.5,202.5 1173.75,196.25 1180,196.25 1197.5,205 1199.5,207.5 1193.75,210 1205,216.25 1207.5,221.25 1213.75,223.75 1216.25,231.25 1218.75,246.25 1222.5,262.5 1221.25,267.5 1216.25,270 1215,276.25 1213.75,301.25 1197.5,303.75 1196.25,313.75 1168.75,315 1165,307.5 1160,306.25 1155,307.5 1151.25,305 1150,298.75 1143.75,297.5 1140,290 1136.25,286.25 1125,287.5 1123.75,282.5 1126.25,278.75 1123.75,230 1126.25,217.5" fill="#f9bd6f"/>
<polygon points="1252.92,237.08 1281.25,242.92 1281.25,263.75 1274.17,266.67 1280,266 1280.83,273.33 1276.67,274.58 1274.17,274.17 1273.75,272.08 1267.08,272.5 1266.67,283.33 1280.83,283.75 1281.25,298.33 1283.75,342 1260,341.25 1255,322.5 1256.25,313.75 1266.25,312.5 1266.25,305 1263.75,305 1250,305 1248.75,297.5 1253.33,293.33 1255,276.67 1252.92,272.5 1245.83,270.83 1243.33,268.33 1244.17,264.17 1252.92,253.33 1251.67,247.5" fill="#f9bd6f"/>
<polygon points="1282,298.75 1288.75,298.75 1289.5,312.5 1323.75,312.5 1345,298.75 1357.5,298.75 1357.5,310 1373.75,310 1375,340 1327.5,341.25 1327.5,349.5 1313.75,349.5 1312.5,342.5 1285,342.5 1282.5,330" fill="#f8d09e"/>
<polygon points="1306.33,175.83 1328,175 1327.5,212.5 1327.08,222.92 1321.67,222.92 1321.25,220.42 1305.83,220.42 1304.33,221.5" fill="#6a9dcb"/>
<polygon points="1304.17,221.67 1305.83,220.42 1321.25,220.42 1321.67,222.92 1327.08,222.92 1327.5,212.5 1331.67,211.67 1335,211.25 1340,213.33 1343.33,212.5 1353.33,212.5 1356.67,213.75 1365,212.5 1366.67,210.42 1366.67,208.33 1368.33,215 1371.67,220 1372,250 1357.5,250.83 1357.5,276.67 1329.17,278.67 1327.08,266.67 1313.33,266.25 1312.92,274.17 1309.58,274.17 1309.17,266.67 1302.5,265.83 1296.67,267.5 1296.67,269.17 1289.17,268.75 1286.67,265 1281.67,264.17 1281.67,243.33 1288.33,244.33 1301.67,247.08 1303.33,234.17" fill="#b35232"/>
<polygon points="1355.83,189.67 1369.67,189.17 1370,182.5 1373.33,182.5 1373.67,188.33 1378.33,189.67 1388.33,205 1389.17,197 1397,197 1397.5,208.33 1411.67,219.17 1450.83,219.67 1440,235 1432.5,246.67 1418.33,250.83 1418.33,280 1410.83,280 1409.67,273.33 1406.67,260 1403.33,250.83 1398.33,238.33 1393.33,233.33 1386.67,235 1383.33,231.67 1378.33,226.67 1372.5,220.83 1368.33,215 1366.67,208.33 1363.33,206.67 1365.83,203.33" fill="#8fc1e6"/>
<polygon points="1372,220.33 1378.33,226.67 1383.33,231.67 1386.67,235 1393.33,233.33 1398.33,238.33 1403.33,250.83 1406.67,260 1409.67,273.33 1410.83,280 1388.33,280.33 1386.67,278.33 1357.5,277.5 1357.5,250.83 1372,250" fill="#6a9dcb"/>
<polygon points="1360,278.33 1386.67,278.67 1388.33,280.33 1418.33,280.33 1420,293.33 1425.83,306.67 1426.67,340 1427.5,340 1373.75,341.25 1374.17,310.83 1360,311.33" fill="#8fc1e6"/>
<polygon points="1450.83,219.67 1475.83,219.67 1477.5,230 1481.67,248.33 1418.33,250.83 1432.5,246.67 1440,235" fill="#6195c6"/>
<polygon points="1418.33,250.83 1481.67,248.33 1485,263.33 1419.17,264.67" fill="#598dc0"/>
<polygon points="1478.33,175.33 1515.83,174.67 1516.67,176.67 1520,201.67 1530,230 1510,233.33 1506.67,247.5 1481.67,248.33 1477.5,230 1475.83,219.67 1478.33,218.33" fill="#6a9dcb"/>
<polygon points="1515.83,174.67 1530,174.17 1527.5,166.33 1545,165.83 1551.67,190 1560,200 1556.67,200 1560.83,215 1561.67,230 1530,230 1520,201.67 1516.67,176.67" fill="#4c7fb4"/>
<polygon points="1530,230 1561.67,230 1568.33,246.67 1570,260 1573.33,266.67 1531.67,268.33" fill="#5285ba"/>
<polygon points="1481.67,248.33 1506.67,247.5 1510,233.33 1530,230 1531.67,268.33 1533.33,293.33 1500,293.33 1491.67,280 1486.67,266.67" fill="#598dc0"/>
<polygon points="1531.67,268.33 1573.33,266.67 1578.33,276.67 1581.67,290 1586.67,293.33 1587.5,298.33 1583.33,303.33 1550,306.67 1546.67,298.33 1533.33,293.33" fill="#5285ba"/>
<polygon points="1419.17,264.67 1485,263.33 1491.67,280 1498.33,291.67 1500,295 1446.67,293.33 1436.67,283.33 1430,280.83 1419.17,280.33" fill="#4c7fb4"/>
<polygon points="1419.17,280.33 1430,280.83 1436.67,283.33 1446.67,293.33 1500,295 1500.83,305 1498.33,323.33 1450,325 1450,335 1450,325 1448.75,340 1428,340.5 1426.67,340 1425.83,306.67 1420,293.33" fill="#6a9dcb"/>
<polygon points="1500,293.33 1533.33,293.33 1535,340 1533.75,352.5 1520,353.75 1512.5,350 1505,337.5 1498.75,315 1495,323.75 1450,325 1450,335 1450,325 1498.33,323.33 1500.83,305" fill="#4c7fb4"/>
<polygon points="1533.33,293.33 1546.67,298.33 1550,306.67 1583.33,303.33 1585,326.67 1588.33,340 1585,322.5 1588.75,337.5 1595,332.5 1597.5,353.75 1533.75,352.5 1535,340" fill="#598dc0"/>
<polygon points="1328.75,342.5 1351.25,342.5 1352.5,381.25 1330,373.75" fill="#4678ac"/>
<polygon points="1351.25,342.5 1427.5,341.25 1428,391.25 1380,386.25 1352.5,381.25" fill="#6a9dcb"/>
<polygon points="1330,374.5 1352.5,381.25 1380,386.25 1428,391.25 1430,491.25 1377.5,492.5 1376.25,402.5 1330,402" fill="#85b7de"/>
<polygon points="1428,341.25 1440,341.25 1457,392 1428.75,392" fill="#4678ac"/>
<polygon points="1450,325 1495,323.75 1498.75,315 1505,337.5 1512.5,350 1520,354 1511.25,353.75 1445,355.5 1440,341.25 1448.75,340" fill="#5285ba"/>
<polygon points="1445,355.5 1511.25,353.75 1520,354.5 1532.5,367.5 1545,380 1556.25,392 1457,392 1440,341.25" fill="#6a9dcb"/>
<polygon points="1520,353.75 1597.5,353.75 1602.5,375 1610,391.25 1607.5,398.75 1560,398.75 1556.25,392 1545,380 1532.5,367.5" fill="#4678ac"/>
<polygon points="1428.75,392 1487.5,393 1488.75,400 1482.5,401.25 1483.75,412.5 1488.75,430 1503.75,436.25 1505,445 1430,446.25" fill="#6195c6"/>
<polygon points="1487.5,393 1556.25,392 1555,400 1557.5,410 1570,425 1580,442.5 1505,445 1503.75,436.25 1488.75,430 1483.75,412.5 1482.5,401.25 1488.75,400" fill="#6a9dcb"/>
<polygon points="1556.25,392 1560,398.75 1607.5,398.75 1613.75,417.5 1622.5,435 1630,435 1630,430 1641.25,428.75 1642.5,436.25 1647.5,437.5 1632.5,440 1631.25,445 1590,447.5 1580,442.5 1570,425 1557.5,410 1555,400" fill="#598dc0"/>
<polygon points="1430,446.25 1460,446.25 1461.25,483.75 1431.25,485" fill="#4071a5"/>
<polygon points="1460,446.25 1505,445.5 1506.25,483.75 1461.25,483.75" fill="#4c7fb4"/>
<polygon points="1505,445.5 1580,443 1590,447.5 1591.25,510 1585,505 1515,506.25 1506.25,497.5 1506.25,483.75" fill="#72a5d2"/>
<polygon points="1590,447.5 1631.25,445 1623.75,460 1620,485 1622.5,487.5 1592.5,488.75" fill="#4678ac"/>
<polygon points="1592.5,488.75 1622.5,487.5 1627.5,490 1626.25,507.5 1628.75,525 1630,533.75 1601.25,535 1600,510 1591.25,510" fill="#5285ba"/>
<polygon points="1431.25,485 1506.25,483.75 1506.25,497.5 1515,506.25 1510,510 1470,520 1432.5,531.25" fill="#4c7fb4"/>
<polygon points="1515,506.25 1585,505 1591.25,510 1600,510 1601.25,535 1590,535 1588.75,550 1557.5,530 1547.5,533.75 1546.25,550 1512.5,555 1511.25,525 1510,510" fill="#5285ba"/>
<polygon points="1432.5,531.25 1470,520 1510,510 1511.25,525 1512.5,555 1546.25,550 1545,570 1545,548.75 1512.5,557.5 1490,566.25 1460,575 1433.75,587.5" fill="#5285ba"/>
<polygon points="1547.5,533.75 1557.5,530 1588.75,550 1590,570 1591.25,545 1591.25,552.5 1545,548.75 1545,545 1546.25,550" fill="#4071a5"/>
<polygon points="1590,535 1601.25,535 1602.5,570 1602.5,623 1591.25,623 1588.75,550" fill="#4678ac"/>
<polygon points="1601.25,535 1630,533.75 1636.25,550 1642.5,570 1645,560 1630,565 1630,577.5 1602.5,577.5" fill="#5285ba"/>
<polygon points="1433.75,587.5 1460,575 1490,566.25 1512.5,557.5 1513.75,580 1517.5,581.25 1517.5,617.5 1523.75,618.75 1526.25,639.5 1526.5,656.25 1435,657.5" fill="#4c7fb4"/>
<polygon points="1512.5,557.5 1545,548.75 1591.25,552.5 1591.25,580 1517.5,581.25 1513.75,580" fill="#5285ba"/>
<polygon points="1517.5,581.25 1591.25,580 1591.25,638.75 1526.25,639.5 1523.75,618.75 1517.5,617.5" fill="#72a5d2"/>
<polygon points="1630,565 1645,560 1655,580 1667.5,607.5 1675,622.5 1637.5,623 1636.25,585 1630,577.5" fill="#4678ac"/>
<polygon points="1602.5,577.5 1630,577.5 1636.25,585 1637.5,623 1602.5,623" fill="#598dc0"/>
<polygon points="1591.25,623 1637.5,623 1637.5,657.5 1622.5,658.75 1620,667.5 1605,668.75 1602.5,655 1591.25,655" fill="#4678ac"/>
<polygon points="1637.5,623 1675,622.5 1677.5,630 1683.75,635 1680,645 1687.5,660 1637.5,657.5" fill="#4678ac"/>
<polygon points="1622.5,658.75 1637.5,657.5 1687.5,660 1695,662.5 1702.5,682.5 1657.5,683.75 1637.5,683.75 1630,685 1622.5,672.5 1620,667.5" fill="#4071a5"/>
<polygon points="1526.25,639.5 1562.5,639.5 1562.5,712.5 1577.5,716.25 1526.25,716.25" fill="#4c7fb4"/>
<polygon points="1562.5,639.5 1591.25,638.75 1591.25,655 1602.5,655 1605,668.75 1598.75,690 1592.5,712.5 1585,717.5 1577.5,716.25 1562.5,712.5" fill="#4071a5"/>
<polygon points="1605,668.75 1620,667.5 1622.5,672.5 1630,685 1637.5,683.75 1657.5,683.75 1655,717.5 1647.5,728.75 1586.25,730 1585,717.5 1592.5,712.5 1598.75,690" fill="#6a9dcb"/>
<polygon points="1657.5,683.75 1702.5,682.5 1717.5,705 1730,710 1736.25,715 1732.5,722.5 1670,728.75 1655,717.5" fill="#6195c6"/>
<polygon points="1435,657.5 1472.5,657 1473,712.5 1470,715 1458.75,708.75 1457.5,723.75 1430,724.5 1427.5,692.5 1430,683.75" fill="#598dc0"/>
<polygon points="1472.5,657 1526.5,656.25 1526.25,716.25 1473,715.5 1473,712.5" fill="#6195c6"/>
<polygon points="1526.25,716.25 1577.5,716.25 1585,717.5 1586.25,730 1592.5,740 1593.75,772.5 1545,767.5 1532.5,755 1527.5,745" fill="#6195c6"/>
<polygon points="1586.25,730 1647.5,728.75 1650,757.5 1645,760 1640,780 1595,773.75 1593.75,772.5 1592.5,740" fill="#6195c6"/>
<polygon points="1337.5,631.25 1410,627.5 1411.25,601.25 1423.75,598.75 1425,582.5 1433.75,582.5 1434.5,657.5 1338.75,658.75 1336.25,655" fill="#e87236"/>
<polygon points="1337,660.5 1434.5,658 1434.5,680 1337.5,682" fill="#dedbd0"/>
<polygon points="1430,724.5 1457.5,723.75 1458.75,708.75 1470,715 1525,716.25 1527.5,745 1532.5,755 1530,759.5 1430,761.25" fill="#dedbd0"/>
<polygon points="1655,717.5 1670,728.75 1732.5,722.5 1745,731.25 1752.5,742.5 1755,767.5 1762.5,770 1762.5,948.75 1620,948.75 1616.25,935 1626.25,865 1635,818.75 1640,795 1640,780 1645,760 1650,757.5 1647.5,728.75" fill="#4071a5"/>
<polygon points="1652,717 1670,728.75 1732.5,722.5 1745,731.25 1752.5,742.5 1755,767.5 1762.5,770 1762.5,789 1735,787 1700,783 1690,765 1672,745" fill="#4c7fb4"/>
<polygon points="1734.5,787 1762.5,788.5 1762.5,850 1754,851 1754,865 1731.5,868 1730,822 1734.5,816" fill="#4c7fb4"/>
<polygon points="1668.75,787.5 1697.5,786.25 1698.75,788.75 1732.5,788.75 1732.5,816.25 1730,820 1731.25,895 1728.75,905 1720,917.5 1665,917.5 1652.5,900 1643.75,870 1647.5,845 1657.5,827.5 1667.5,815" fill="#72a5d2"/>
<polygon points="1680,920 1720,917.5 1728.75,905 1731.25,895 1731.25,867.5 1752.5,866.25 1752.5,852.5 1761.25,850 1762.5,948.75 1680,948.75 1670,930" fill="#4c7fb4"/>
<polygon points="1520,762.5 1531,760.5 1532.5,755 1540,770 1560,820 1555,835.5 1498.75,837 1498,820 1505,818.75 1505,807.5 1518.75,806.25" fill="#8fc1e6"/>
<polygon points="1532.5,755 1545,767.5 1593.75,772.5 1595,820 1581.25,820 1580,835.5 1555,835.5 1560,820 1540,770" fill="#4c7fb4"/>
<polygon points="1593.75,772.5 1640,780 1640,795 1635,818.75 1595,820" fill="#598dc0"/>
<polygon points="1498.75,837 1580,835.5 1581.25,865 1552.5,866.25 1552.5,880 1515,880.75 1513.75,866.25 1499.5,865" fill="#8fc1e6"/>
<polygon points="1552.5,866.25 1626.25,865 1620,915 1612.5,912.5 1605,915 1597.5,921.25 1573.75,920.75 1573.75,911.25 1581.25,908.75 1582.5,895 1552.5,894.5" fill="#b4d3e7"/>
<polygon points="1581.25,820 1635,818.75 1626.25,865 1581.25,865" fill="#6195c6"/>
<polygon points="1460,807.5 1472.5,807.5 1473.75,821.25 1490,822 1497.5,820 1498,858.75 1492.5,861.25 1491.25,866.25 1485,867 1483.75,873.75 1475,873.75 1473.75,867 1431.75,867.5 1431.75,854.5 1461.25,852.5" fill="#b35232"/>
<polygon points="1285,249.58 1295,248.17 1295.83,250.83 1298.75,250.83 1301.25,249.17 1301.25,263.33 1287.5,263.33 1288.33,261 1292.5,260 1295,254.58 1286.67,255 1284.17,253.33" fill="#f3f4f4" stroke="none"/>
</g>
<line x1="1761.5" y1="949" x2="1761.5" y2="1015" stroke="#9a9a9a" stroke-width="1.6" stroke-dasharray="9 4"/>
<line x1="1616" y1="442" x2="1649" y2="437" stroke="#8d9298" stroke-width="1"/>
<line x1="1631" y1="444.5" x2="1645" y2="443.7" stroke="#8d9298" stroke-width="1"/>
<text x="1552.5" y="501" font-size="31" fill="#8d8d8d" fill-opacity="0.28" textLength="113.5" lengthAdjust="spacingAndGlyphs">Chicago</text>
<text x="1275.8" y="199" textLength="75" lengthAdjust="spacingAndGlyphs" class="cl">Edison Park</text>
<text x="1355" y="224.2" textLength="72.5" lengthAdjust="spacingAndGlyphs" class="cl">Forest Glen</text>
<text x="1336.7" y="249.2" textLength="91.7" lengthAdjust="spacingAndGlyphs" class="cl">Jefferson Park</text>
<text x="1345.8" y="307.5" textLength="82.5" lengthAdjust="spacingAndGlyphs" class="cl">Portage Park</text>
<text x="1460.8" y="218.3" textLength="72.5" lengthAdjust="spacingAndGlyphs" class="cl">West Ridge</text>
<text x="1506.7" y="192.5" textLength="75.8" lengthAdjust="spacingAndGlyphs" class="cl">Rogers Park</text>
<text x="1522.5" y="243.75" textLength="68.75" lengthAdjust="spacingAndGlyphs" class="cl">Edgewater</text>
<text x="1454.2" y="270" textLength="93.3" lengthAdjust="spacingAndGlyphs" class="cl">Lincoln Square</text>
<text x="1552" y="288.75" textLength="48" lengthAdjust="spacingAndGlyphs" class="cl">Uptown</text>
<text x="1470" y="327.5" textLength="81.7" lengthAdjust="spacingAndGlyphs" class="cl">North Center</text>
<text x="1191.25" y="263.75" textLength="37.5" lengthAdjust="spacingAndGlyphs" class="cl">Ohare</text>
<text x="1341.25" y="367.5" textLength="97.5" lengthAdjust="spacingAndGlyphs" class="cl">Belmont Cragin</text>
<text x="1455" y="376.25" textLength="85" lengthAdjust="spacingAndGlyphs" class="cl">Logan Square</text>
<text x="1552" y="381.25" textLength="76.75" lengthAdjust="spacingAndGlyphs" class="cl">Lincoln Park</text>
<text x="1417" y="422.5" textLength="95" lengthAdjust="spacingAndGlyphs" class="cl">Humboldt Park</text>
<text x="1362.5" y="431.25" textLength="40.5" lengthAdjust="spacingAndGlyphs" class="cl">Austin</text>
<text x="1563.75" y="428" textLength="101.25" lengthAdjust="spacingAndGlyphs" class="cl">Near North Side</text>
<text x="1603" y="463" textLength="29.5" lengthAdjust="spacingAndGlyphs" class="cl">Loop</text>
<text x="1384.5" y="473.75" textLength="120.5" lengthAdjust="spacingAndGlyphs" class="cl">West Garfield Park</text>
<text x="1417" y="502.5" textLength="101" lengthAdjust="spacingAndGlyphs" class="cl">North Lawndale</text>
<text x="1493.75" y="527" textLength="105.75" lengthAdjust="spacingAndGlyphs" class="cl">Lower West Side</text>
<text x="1421.25" y="552.5" textLength="101.25" lengthAdjust="spacingAndGlyphs" class="cl">South Lawndale</text>
<text x="1595.75" y="557.5" textLength="50.5" lengthAdjust="spacingAndGlyphs" class="cl">Douglas</text>
<text x="1488" y="572" textLength="88.25" lengthAdjust="spacingAndGlyphs" class="cl">Mckinley Park</text>
<text x="1452" y="593" textLength="88" lengthAdjust="spacingAndGlyphs" class="cl">Brighton Park</text>
<text x="1405" y="613" textLength="94.5" lengthAdjust="spacingAndGlyphs" class="cl">Archer Heights</text>
<text x="1620" y="585.75" textLength="51.25" lengthAdjust="spacingAndGlyphs" class="cl">Oakland</text>
<text x="1563.75" y="605.5" textLength="106.25" lengthAdjust="spacingAndGlyphs" class="cl">Grand Boulevard</text>
<text x="1415.5" y="646.25" textLength="78.75" lengthAdjust="spacingAndGlyphs" class="cl">West Elsdon</text>
<text x="1564.5" y="649.5" textLength="108.5" lengthAdjust="spacingAndGlyphs" class="cl">Washington Park</text>
<text x="1353" y="673.75" textLength="52.5" lengthAdjust="spacingAndGlyphs" class="cl">Clearing</text>
<text x="1495.75" y="675" textLength="106.25" lengthAdjust="spacingAndGlyphs" class="cl">West Englewood</text>
<text x="1636.25" y="676.75" textLength="67.5" lengthAdjust="spacingAndGlyphs" class="cl">Woodlawn</text>
<text x="1420" y="690.5" textLength="69.5" lengthAdjust="spacingAndGlyphs" class="cl">West Lawn</text>
<text x="1545.75" y="703.75" textLength="149.25" lengthAdjust="spacingAndGlyphs" class="cl">Greater Grand Crossing</text>
<text x="1507.5" y="749.5" textLength="106.25" lengthAdjust="spacingAndGlyphs" class="cl">Auburn Gresham</text>
<text x="1692.5" y="745" textLength="90" lengthAdjust="spacingAndGlyphs" class="cl">South Chicago</text>
<text x="1638" y="777" textLength="105" lengthAdjust="spacingAndGlyphs" class="cl">Calumet Heights</text>
<text x="1505" y="796.25" textLength="129.5" lengthAdjust="spacingAndGlyphs" class="cl">Washington Heights</text>
<text x="1582" y="816.25" textLength="58" lengthAdjust="spacingAndGlyphs" class="cl">Roseland</text>
<text x="1726.25" y="815" textLength="58.25" lengthAdjust="spacingAndGlyphs" class="cl">East Side</text>
<text x="1412.5" y="846.25" textLength="117.5" lengthAdjust="spacingAndGlyphs" class="cl">Mount Greenwood</text>
<text x="1643.75" y="850" textLength="90" lengthAdjust="spacingAndGlyphs" class="cl">South Deering</text>
<text x="1545.75" y="902.5" textLength="87.5" lengthAdjust="spacingAndGlyphs" class="cl">West Pullman</text>
<text x="1688.25" y="917.5" textLength="68.75" lengthAdjust="spacingAndGlyphs" class="cl">Hegewisch</text>
<text x="1275.8" y="199" textLength="75" lengthAdjust="spacingAndGlyphs" class="cl2">Edison Park</text>
<text x="1355" y="224.2" textLength="72.5" lengthAdjust="spacingAndGlyphs" class="cl2">Forest Glen</text>
<text x="1336.7" y="249.2" textLength="91.7" lengthAdjust="spacingAndGlyphs" class="cl2">Jefferson Park</text>
<text x="1345.8" y="307.5" textLength="82.5" lengthAdjust="spacingAndGlyphs" class="cl2">Portage Park</text>
<text x="1460.8" y="218.3" textLength="72.5" lengthAdjust="spacingAndGlyphs" class="cl2">West Ridge</text>
<text x="1506.7" y="192.5" textLength="75.8" lengthAdjust="spacingAndGlyphs" class="cl2">Rogers Park</text>
<text x="1522.5" y="243.75" textLength="68.75" lengthAdjust="spacingAndGlyphs" class="cl2">Edgewater</text>
<text x="1454.2" y="270" textLength="93.3" lengthAdjust="spacingAndGlyphs" class="cl2">Lincoln Square</text>
<text x="1552" y="288.75" textLength="48" lengthAdjust="spacingAndGlyphs" class="cl2">Uptown</text>
<text x="1470" y="327.5" textLength="81.7" lengthAdjust="spacingAndGlyphs" class="cl2">North Center</text>
<text x="1191.25" y="263.75" textLength="37.5" lengthAdjust="spacingAndGlyphs" class="cl2">Ohare</text>
<text x="1341.25" y="367.5" textLength="97.5" lengthAdjust="spacingAndGlyphs" class="cl2">Belmont Cragin</text>
<text x="1455" y="376.25" textLength="85" lengthAdjust="spacingAndGlyphs" class="cl2">Logan Square</text>
<text x="1552" y="381.25" textLength="76.75" lengthAdjust="spacingAndGlyphs" class="cl2">Lincoln Park</text>
<text x="1417" y="422.5" textLength="95" lengthAdjust="spacingAndGlyphs" class="cl2">Humboldt Park</text>
<text x="1362.5" y="431.25" textLength="40.5" lengthAdjust="spacingAndGlyphs" class="cl2">Austin</text>
<text x="1563.75" y="428" textLength="101.25" lengthAdjust="spacingAndGlyphs" class="cl2">Near North Side</text>
<text x="1603" y="463" textLength="29.5" lengthAdjust="spacingAndGlyphs" class="cl2">Loop</text>
<text x="1384.5" y="473.75" textLength="120.5" lengthAdjust="spacingAndGlyphs" class="cl2">West Garfield Park</text>
<text x="1417" y="502.5" textLength="101" lengthAdjust="spacingAndGlyphs" class="cl2">North Lawndale</text>
<text x="1493.75" y="527" textLength="105.75" lengthAdjust="spacingAndGlyphs" class="cl2">Lower West Side</text>
<text x="1421.25" y="552.5" textLength="101.25" lengthAdjust="spacingAndGlyphs" class="cl2">South Lawndale</text>
<text x="1595.75" y="557.5" textLength="50.5" lengthAdjust="spacingAndGlyphs" class="cl2">Douglas</text>
<text x="1488" y="572" textLength="88.25" lengthAdjust="spacingAndGlyphs" class="cl2">Mckinley Park</text>
<text x="1452" y="593" textLength="88" lengthAdjust="spacingAndGlyphs" class="cl2">Brighton Park</text>
<text x="1405" y="613" textLength="94.5" lengthAdjust="spacingAndGlyphs" class="cl2">Archer Heights</text>
<text x="1620" y="585.75" textLength="51.25" lengthAdjust="spacingAndGlyphs" class="cl2">Oakland</text>
<text x="1563.75" y="605.5" textLength="106.25" lengthAdjust="spacingAndGlyphs" class="cl2">Grand Boulevard</text>
<text x="1415.5" y="646.25" textLength="78.75" lengthAdjust="spacingAndGlyphs" class="cl2">West Elsdon</text>
<text x="1564.5" y="649.5" textLength="108.5" lengthAdjust="spacingAndGlyphs" class="cl2">Washington Park</text>
<text x="1353" y="673.75" textLength="52.5" lengthAdjust="spacingAndGlyphs" class="cl2">Clearing</text>
<text x="1495.75" y="675" textLength="106.25" lengthAdjust="spacingAndGlyphs" class="cl2">West Englewood</text>
<text x="1636.25" y="676.75" textLength="67.5" lengthAdjust="spacingAndGlyphs" class="cl2">Woodlawn</text>
<text x="1420" y="690.5" textLength="69.5" lengthAdjust="spacingAndGlyphs" class="cl2">West Lawn</text>
<text x="1545.75" y="703.75" textLength="149.25" lengthAdjust="spacingAndGlyphs" class="cl2">Greater Grand Crossing</text>
<text x="1507.5" y="749.5" textLength="106.25" lengthAdjust="spacingAndGlyphs" class="cl2">Auburn Gresham</text>
<text x="1692.5" y="745" textLength="90" lengthAdjust="spacingAndGlyphs" class="cl2">South Chicago</text>
<text x="1638" y="777" textLength="105" lengthAdjust="spacingAndGlyphs" class="cl2">Calumet Heights</text>
<text x="1505" y="796.25" textLength="129.5" lengthAdjust="spacingAndGlyphs" class="cl2">Washington Heights</text>
<text x="1582" y="816.25" textLength="58" lengthAdjust="spacingAndGlyphs" class="cl2">Roseland</text>
<text x="1726.25" y="815" textLength="58.25" lengthAdjust="spacingAndGlyphs" class="cl2">East Side</text>
<text x="1412.5" y="846.25" textLength="117.5" lengthAdjust="spacingAndGlyphs" class="cl2">Mount Greenwood</text>
<text x="1643.75" y="850" textLength="90" lengthAdjust="spacingAndGlyphs" class="cl2">South Deering</text>
<text x="1545.75" y="902.5" textLength="87.5" lengthAdjust="spacingAndGlyphs" class="cl2">West Pullman</text>
<text x="1688.25" y="917.5" textLength="68.75" lengthAdjust="spacingAndGlyphs" class="cl2">Hegewisch</text>
<text x="1543.5" y="92.5" class="sb" fill="#1a1a1a" textLength="173" lengthAdjust="spacingAndGlyphs">Number of Employees</text>
<text x="1724.5" y="92.5" class="sb" fill="#1a1a1a">:</text>
<text x="1751" y="86" class="ss" fill="#555">2</text>
<rect x="1575" y="108.5" width="139" height="21.5" fill="url(#lg2)" stroke="#9a9a9a" stroke-width="0.8"/>
<line x1="1644.7" y1="128.3" x2="1644.7" y2="133.3" stroke="#222" stroke-width="1.7"/>
<text x="1549.5" y="124.3" font-size="18" fill="#555" textLength="20.3" lengthAdjust="spacingAndGlyphs">58</text>
<text x="1720.7" y="124.3" font-size="18" fill="#555" textLength="46" lengthAdjust="spacingAndGlyphs">2,039</text>
</g></svg>
</body>
</html>
